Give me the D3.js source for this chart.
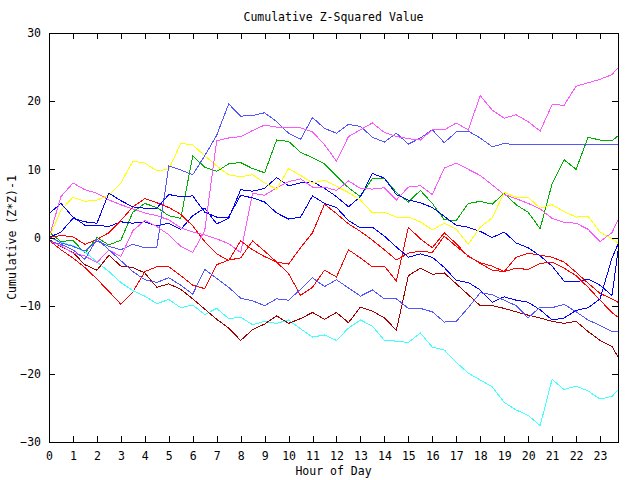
<!DOCTYPE html>
<html>
<head>
<meta charset="utf-8">
<title>Cumulative Z-Squared Value</title>
<script src="https://d3js.org/d3.v7.min.js"></script>
<style>
  body { margin: 0; background: #fff; }
  svg text { font-family: "DejaVu Sans Mono", monospace; font-size: 11.5px; fill: #000; }
  .series path { fill: none; stroke-width: 1; shape-rendering: crispEdges; }
</style>
</head>
<body>
<svg width="640" height="480"></svg>
<script>
// sample times (hours) and tick values
const hours = [0, 0.5, 1, 1.5, 2, 2.5, 3, 3.5, 4, 4.5, 5, 5.5, 6, 6.5, 7, 7.5, 8, 8.5, 9, 9.5,
  10, 10.5, 11, 11.5, 12, 12.5, 13, 13.5, 14, 14.5, 15, 15.5, 16, 16.5, 17, 17.5, 18, 18.5, 19, 19.5,
  20, 20.5, 21, 21.5, 22, 22.5, 23, 23.5, 23.75];
const hourTicks = [0, 1, 2, 3, 4, 5, 6, 7, 8, 9, 10, 11, 12, 13, 14, 15, 16, 17, 18, 19, 20, 21, 22, 23];
const valueTicks = [-30, -20, -10, 0, 10, 20, 30];

// cumulative (Z*Z)-1, one array per run
const red1 = [-0.4, -1.8, -3.0, -4.4, -6.1, -7.9, -9.8, -8.0, -5.0, -4.3, -4.3, -5.6, -7.0, -7.5, -4.0, -3.3, -3.0, -0.5, -2.0, -3.6,
  -5.3, -8.5, -7.3, -4.8, -5.8, -1.8, -3.0, -4.3, -4.2, -6.4, 1.5, -0.2, -1.5, 0.7, -0.9, -2.8, -3.7, -4.2, -5.0, -2.9,
  -2.3, -2.6, -2.9, -3.6, -5.1, -6.7, -8.2, -9.0, -9.5];
const red2 = [0.0, 0.3, 0.1, -1.0, -0.3, 0.7, 2.5, 4.5, 5.7, 5.1, 4.4, 3.4, 1.7, -0.6, -2.4, -3.4, -0.5, -1.8, -2.8, -3.6,
  -3.9, -1.5, 0.7, 4.9, 3.5, 2.0, 0.9, -0.4, -1.8, -3.3, -2.3, -2.0, -2.2, 0.2, -1.3, -2.7, -3.8, -4.8, -5.0, -4.5,
  -4.7, -3.8, -3.6, -4.5, -5.6, -7.3, -9.2, -11.0, -11.7];
const green1 = [0.8, -0.6, -0.4, -2.3, 0.0, -1.1, -0.4, 3.7, 5.0, 4.4, 3.2, 2.8, 12.0, 10.3, 9.7, 10.8, 11.0, 10.1, 9.5, 14.3,
  14.1, 12.5, 11.7, 10.8, 9.0, 7.3, 6.0, 8.7, 8.7, 6.6, 5.2, 6.9, 5.0, 2.6, 2.5, 5.0, 5.3, 4.9, 6.5, 4.8,
  3.7, 1.3, 7.9, 11.4, 10.0, 14.7, 14.3, 14.2, 14.9];
const blue1 = [3.5, 5.0, 3.0, 1.8, 1.8, 1.6, 2.3, 2.1, 2.3, 1.7, 2.1, 1.2, 3.2, 4.3, 2.0, 2.8, 7.0, 6.8, 7.2, 8.8,
  7.6, 8.0, 8.2, 7.2, 6.0, 4.5, 6.0, 9.4, 8.7, 6.3, 5.5, 5.1, 4.4, 3.1, 1.8, 1.5, 0.9, 0.0, 0.8, -0.8,
  -1.5, -2.7, -4.2, -6.4, -6.5, -6.1, -7.0, -8.5, -2.0];
const blue2 = [0.0, 0.8, 2.8, 2.3, 2.1, 6.5, 5.4, 4.5, 4.3, 4.3, 6.3, 6.0, 6.1, 3.7, 3.0, 3.0, 6.2, 5.8, 5.2, 3.6,
  2.7, 3.0, 6.1, 5.0, 4.4, 2.5, 1.4, 1.5, 0.2, -1.4, -2.9, -2.4, -2.9, -4.4, -6.3, -6.6, -7.7, -9.5, -8.7, -9.2,
  -9.5, -10.6, -12.1, -11.8, -10.7, -10.3, -9.0, -3.0, -1.0];
const magenta1 = [-0.5, -1.2, -2.3, -2.7, -3.7, -1.8, -2.8, 1.0, 2.5, 1.6, 0.4, -1.3, -2.2, 1.0, 14.2, 14.6, 14.8, 15.7, 16.5, 16.2,
  16.2, 16.1, 15.5, 13.6, 11.2, 14.8, 15.8, 16.8, 15.4, 14.8, 14.5, 14.3, 15.8, 15.8, 16.8, 15.8, 20.8, 18.7, 17.5, 18.0,
  17.0, 15.6, 19.5, 19.4, 22.2, 22.7, 23.2, 23.9, 24.9];
const magenta2 = [0.0, 6.0, 8.0, 7.0, 6.5, 5.5, 4.8, 4.2, 3.6, 3.2, 2.6, 1.4, 0.8, 0.4, -0.2, -0.9, -2.2, 6.5, 6.2, 7.3,
  8.2, 8.6, 7.4, 7.4, 6.9, 8.3, 7.2, 7.1, 7.3, 5.5, 7.4, 7.6, 6.3, 10.2, 10.9, 10.0, 9.1, 7.7, 6.3, 5.7,
  5.0, 4.2, 2.8, 2.2, 2.1, 1.2, -0.6, 0.7, 2.6];
const cyan1 = [0.0, -0.7, -1.2, -2.1, -3.6, -5.0, -6.6, -7.8, -8.6, -9.7, -9.1, -10.3, -9.9, -11.3, -10.4, -11.9, -11.7, -12.8, -12.3, -12.6,
  -12.1, -13.4, -14.6, -14.3, -15.1, -13.3, -12.1, -13.0, -15.1, -15.2, -15.4, -14.0, -16.1, -16.5, -18.3, -19.9, -20.9, -21.9, -24.2, -25.3,
  -26.1, -27.6, -20.8, -22.3, -21.8, -22.5, -23.7, -23.3, -22.4];
const darkred1 = [-0.3, -1.3, -2.2, -4.0, -4.8, -2.6, -4.2, -4.4, -5.2, -7.3, -6.8, -7.6, -9.0, -10.5, -12.0, -13.3, -15.1, -13.5, -12.7, -11.5,
  -12.6, -11.9, -11.0, -12.0, -11.0, -12.5, -10.2, -10.8, -11.8, -13.6, -5.6, -4.5, -5.4, -5.2, -6.8, -8.4, -10.0, -10.0, -10.4, -10.9,
  -11.4, -11.8, -12.3, -12.6, -12.3, -13.8, -15.1, -16.0, -17.5];
const yellow1 = [0.0, 4.0, 5.9, 5.3, 5.5, 6.2, 8.0, 11.2, 10.9, 9.8, 10.0, 13.8, 13.6, 12.0, 10.5, 9.2, 8.9, 9.2, 8.0, 7.1,
  10.1, 9.1, 8.0, 8.4, 7.5, 6.6, 5.5, 3.6, 3.7, 3.0, 3.0, 2.3, 1.1, 2.1, 1.2, -1.0, 1.5, 2.9, 6.6, 5.9,
  5.9, 4.3, 4.8, 3.8, 3.0, 3.1, 0.8, -0.2, -0.8];
const lightblue1 = [0.2, -0.8, -1.3, -2.0, -0.5, -1.3, -1.8, -1.0, -1.5, -1.5, 10.5, 9.9, 9.2, 12.0, 15.0, 19.6, 17.8, 17.9, 18.3, 17.0,
  15.3, 14.4, 17.6, 16.0, 15.3, 16.6, 16.3, 14.7, 14.0, 15.3, 13.7, 14.6, 15.8, 13.9, 15.5, 15.6, 14.6, 13.3, 13.8, 13.6,
  13.7, 13.7, 13.7, 13.7, 13.7, 13.7, 13.7, 13.7, 13.7];
const lightblue2 = [-0.5, -1.0, -1.8, -3.2, -0.2, -1.8, -3.4, -5.0, -6.2, -6.6, -5.9, -7.0, -8.3, -4.7, -6.0, -7.3, -8.9, -9.3, -10.0, -9.0,
  -9.2, -7.6, -5.9, -7.2, -6.2, -7.4, -8.6, -7.7, -9.0, -9.0, -10.4, -10.4, -10.9, -12.4, -12.3, -10.3, -8.1, -8.4, -9.2, -10.0,
  -11.8, -10.2, -10.3, -9.8, -10.9, -12.1, -12.9, -13.8, -13.8];

const runs = [
  { values: red1, color: "#ff0000" },
  { values: green1, color: "#00b000" },
  { values: blue1, color: "#0000ff" },
  { values: magenta2, color: "#ff55ff" },
  { values: cyan1, color: "#40ffff" },
  { values: darkred1, color: "#a00000" },
  { values: yellow1, color: "#ffff00" },
  { values: lightblue1, color: "#5555ff" },
  { values: red2, color: "#ff0000" },
  { values: blue2, color: "#0000ff" },
  { values: magenta1, color: "#ff55ff" },
  { values: lightblue2, color: "#5555ff" }
];

const svg = d3.select("svg");
const plotLeft = 49, plotRight = 618, plotTop = 33, plotBottom = 442;

const x = d3.scaleLinear().domain([0, 23.75]).range([plotLeft, plotRight]);
const y = d3.scaleLinear().domain([-30, 30]).range([plotBottom, plotTop]);

const line = d3.line()
  .x((d, i) => x(hours[i]))
  .y(d => y(d));

svg.append("g").attr("class", "series")
  .selectAll("path")
  .data(runs)
  .join("path")
  .attr("stroke", d => d.color)
  .attr("d", d => line(d.values));

// axes, ticks pointing inward
function styleAxis(g) {
  g.select(".domain").remove();
  g.selectAll("line").attr("stroke", "#000").attr("shape-rendering", "crispEdges");
  g.attr("font-family", null).attr("font-size", null);
}

svg.append("g")
  .attr("transform", `translate(0,${plotBottom})`)
  .call(d3.axisBottom(x).tickValues(hourTicks).tickSize(-6).tickPadding(10).tickFormat(d3.format("d")))
  .call(styleAxis);

svg.append("g")
  .attr("transform", `translate(0,${plotTop})`)
  .call(d3.axisTop(x).tickValues(hourTicks).tickSize(-6).tickFormat(""))
  .call(styleAxis);

svg.append("g")
  .attr("transform", `translate(${plotLeft},0)`)
  .call(d3.axisLeft(y).tickValues(valueTicks).tickSize(-6).tickPadding(8).tickFormat(d3.format("d")))
  .call(styleAxis);

svg.append("g")
  .attr("transform", `translate(${plotRight},0)`)
  .call(d3.axisRight(y).tickValues(valueTicks).tickSize(-6).tickFormat(""))
  .call(styleAxis);

svg.append("rect")
  .attr("x", plotLeft).attr("y", plotTop)
  .attr("width", plotRight - plotLeft).attr("height", plotBottom - plotTop)
  .attr("fill", "none").attr("stroke", "#000")
  .attr("shape-rendering", "crispEdges");

svg.append("text")
  .attr("x", (plotLeft + plotRight) / 2).attr("y", 21)
  .attr("text-anchor", "middle")
  .text("Cumulative Z-Squared Value");

svg.append("text")
  .attr("x", (plotLeft + plotRight) / 2).attr("y", 475)
  .attr("text-anchor", "middle")
  .text("Hour of Day");

svg.append("text")
  .attr("transform", `translate(16,${(plotTop + plotBottom) / 2}) rotate(-90)`)
  .attr("text-anchor", "middle")
  .text("Cumulative (Z*Z)-1");
</script>
</body>
</html>
